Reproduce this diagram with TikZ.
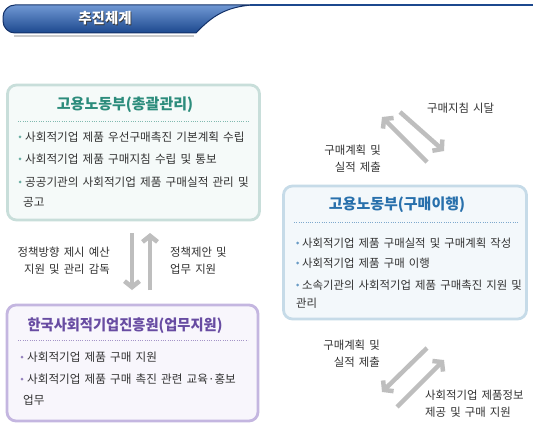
\documentclass[tikz,border=0pt]{standalone}
\usepackage{fontspec}
\setmainfont{Noto Sans CJK KR}[WordSpace=1.6]
\usetikzlibrary{arrows.meta}
\definecolor{bannerhi}{RGB}{112,152,212}
\definecolor{bannerlo}{RGB}{28,72,142}
\definecolor{bannerdk}{RGB}{20,50,105}
\definecolor{tealline}{RGB}{200,222,218}
\definecolor{tealfill}{RGB}{245,250,249}
\definecolor{tealtext}{RGB}{44,140,124}
\definecolor{blueline}{RGB}{198,219,232}
\definecolor{bluefill}{RGB}{243,248,251}
\definecolor{bluetext}{RGB}{40,112,172}
\definecolor{purpline}{RGB}{196,182,224}
\definecolor{purpfill}{RGB}{248,246,252}
\definecolor{purptext}{RGB}{104,76,162}
\definecolor{arrowgray}{RGB}{190,190,190}
\definecolor{textgray}{RGB}{50,50,50}
\tikzset{
  boxbase/.style={rounded corners=9pt, line width=2.8pt, inner sep=0pt},
  flow/.style={line width=4.5pt, draw=arrowgray, -{Straight Barb[length=6pt,width=15pt]}},
  lbl/.style={font=\fontsize{11.4}{17}\selectfont, text=textgray, inner sep=0pt},
  item/.style={anchor=west, font=\fontsize{11.6}{14}\selectfont, text=textgray, inner sep=0pt},
  head/.style={font=\fontsize{15}{18}\selectfont\bfseries, inner sep=0pt},
  sep/.style={line width=0.8pt, dash pattern=on 1pt off 1.3pt}
}
\begin{document}
\begin{tikzpicture}[x=1pt,y=-1pt]
    \useasboundingbox[fill=white] (0,0) rectangle (533,425);
    % banner
    \draw[black!20, line width=2.5pt] (14,36) -- (194,36);
    \shade[top color=bannerhi, bottom color=bannerlo, draw=bannerdk, line width=1pt]
        (196,33) [rounded corners=12pt] -- (3,33) -- (3,5) [sharp corners] -- (252,5)
        .. controls (226,7) and (212,16) .. (196,33) -- cycle;
    \draw[bannerlo, line width=1.3pt] (250,5) -- (533,5);
    \node[head, font=\fontsize{14.5}{18}\selectfont\bfseries, text=black!80] (ttlsh) at (105.8,18.8) {추진체계};
    \node[head, font=\fontsize{14.5}{18}\selectfont\bfseries, text=white] (ttl) at (105,18) {추진체계};

    % boxes
    \node[boxbase, draw=tealline, fill=tealfill, minimum width=252pt, minimum height=135pt] (mgmt) at (133.5,152.5) {};
    \node[boxbase, draw=blueline, fill=bluefill, minimum width=243pt, minimum height=133pt] (exec) at (405,252.5) {};
    \node[boxbase, draw=purpline, fill=purpfill, minimum width=251pt, minimum height=116pt] (kosea) at (132.5,363) {};

    \node[head, text=tealtext] (mgmthd) at (125,105) {고용노동부(총괄관리)};
    \node[head, text=bluetext] (exechd) at (397,205) {고용노동부(구매이행)};
    \node[head, text=purptext] (koseahd) at (125,326) {\scalebox{0.95}[1]{한국사회적기업진흥원(업무지원)}};
    \draw[sep, tealtext!60] (18,121) -- (250,121);
    \draw[sep, bluetext!60] (294,222) -- (518,222);
    \draw[sep, purptext!60] (18,340) -- (248,340);

    % items
    \foreach \y/\t [count=\i] in {137/사회적기업 제품 우선구매촉진 기본계획 수립, 159/사회적기업 제품 구매지침 수립 및 통보, 182/공공기관의 사회적기업 제품 구매실적 관리 및}
        {\fill[tealtext!70] (20,\y) circle (1.5pt);
         \node[item] (mgmt\i) at (25,\y) {\t};}
    \node[item] (mgmt4) at (23,202) {공고};
    \foreach \y/\t [count=\i] in {243/사회적기업 제품 구매실적 및 구매계획 작성, 263/사회적기업 제품 구매 이행, 285/소속기관의 사회적기업 제품 구매촉진 지원 및}
        {\fill[bluetext!70] (297.5,\y) circle (1.5pt);
         \node[item, font=\fontsize{11.4}{14}\selectfont] (exec\i) at (302,\y) {\t};}
    \node[item, font=\fontsize{11.4}{14}\selectfont] (exec4) at (296,303) {관리};
    \foreach \y/\t [count=\i] in {357/사회적기업 제품 구매 지원, 379/사회적기업 제품 구매 촉진 관련 교육·홍보}
        {\fill[purptext!70] (22,\y) circle (1.5pt);
         \node[item] (kosea\i) at (27,\y) {\t};}
    \node[item] (kosea3) at (23,400) {업무};

    % arrows
    \coordinate (dn1) at (132,233); \coordinate (dn2) at (132,290);
    \coordinate (up1) at (150,290); \coordinate (up2) at (150,233);
    \draw[flow] (dn1) -- (dn2);
    \draw[flow] (up1) -- (up2);
    \coordinate (ua1) at (427,162); \coordinate (ua2) at (382,117);
    \coordinate (ub1) at (400,112); \coordinate (ub2) at (444,151);
    \draw[flow] (ua1) -- (ua2);
    \draw[flow] (ub1) -- (ub2);
    \coordinate (la1) at (427,348); \coordinate (la2) at (382,392);
    \coordinate (lb1) at (397,407); \coordinate (lb2) at (444,360);
    \draw[flow] (la1) -- (la2);
    \draw[flow] (lb1) -- (lb2);

    % labels
    \node[lbl, anchor=east, align=right] (policy) at (110,261) {정책방향 제시 예산\\지원 및 관리 감독};
    \node[lbl, anchor=west, align=left] (propose) at (170,261) {정책제안 및\\업무 지원};
    \node[lbl, anchor=west] (guide) at (427,108) {구매지침 시달};
    \node[lbl, anchor=east, align=right] (plan1) at (381,159) {구매계획 및\\실적 제출};
    \node[lbl, anchor=east, align=right] (plan2) at (380,354) {구매계획 및\\실적 제출};
    \node[lbl, anchor=west, align=left] (info) at (425,404) {사회적기업 제품정보\\제공 및 구매 지원};
\end{tikzpicture}
\end{document}
